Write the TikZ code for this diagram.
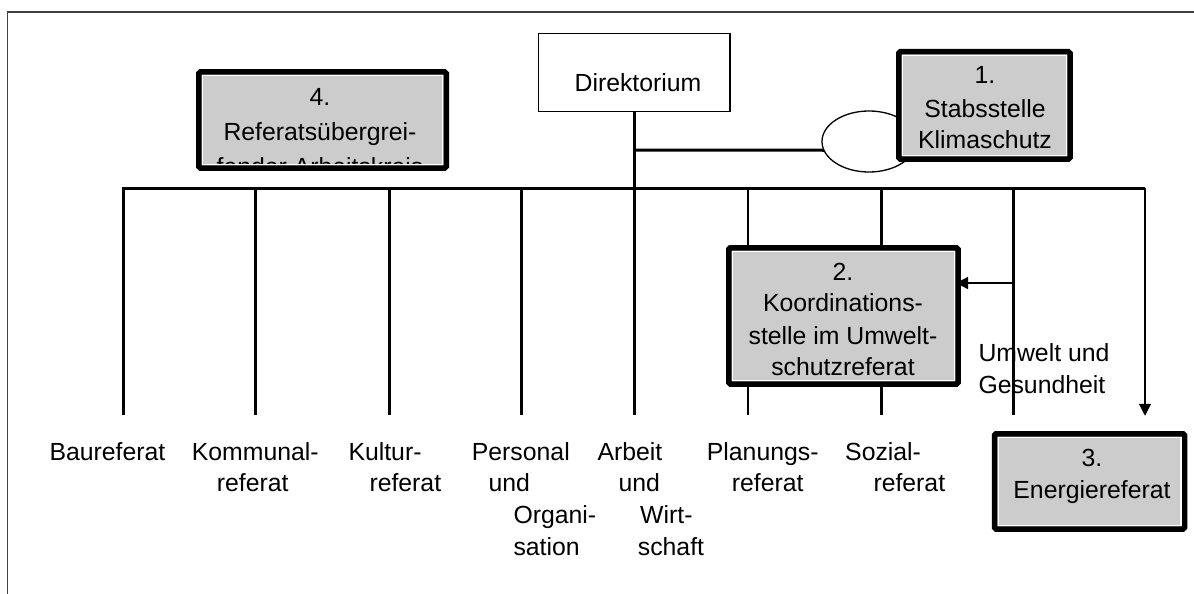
\documentclass[tikz,border=0pt]{standalone}
\usepackage{fontspec}
\setmainfont{Liberation Sans}
\usetikzlibrary{arrows.meta,fit,shapes.geometric}
\newcommand\myinner[1]{\draw[white, line width=1.2pt] ([xshift=3.6pt,yshift=-3.6pt]#1.north west) rectangle ([xshift=-3.6pt,yshift=3.6pt]#1.south east);}
\begin{document}
\begin{tikzpicture}[x=1pt,y=-1pt,
  txt/.style={inner sep=0pt, font=\fontsize{24.8}{30}\selectfont},
  lbl/.style={txt, anchor=base west},
  ctr/.style={txt, anchor=base},
  grbox/.style={draw=black, line width=5.5pt, fill=black!20, inner sep=0pt, outer sep=0pt, rounded corners=1.5pt},
  wbox/.style={draw=black, line width=1.3pt, fill=white, inner sep=0pt, outer sep=0pt},
  heavy/.style={line width=3pt},
  thinl/.style={line width=1.3pt},
  arr/.style={thinl, -{Triangle[length=12pt,width=12pt]}},
]
\useasboundingbox (0,0) rectangle (1194,594);
% frame
\draw[black!75, line width=1.5pt] (7.6,594) -- (7.6,12) -- (1194,12);

% label end points
\coordinate (e1) at (123,415);
\coordinate (e2) at (255,415);
\coordinate (e3) at (389.6,415);
\coordinate (e4) at (521,415);
\coordinate (e6) at (748,415);
\coordinate (e7) at (881,415);
\coordinate (e8) at (1013,415);
\coordinate (busL) at (123,188);
\coordinate (busR) at (1145,188);

% Umwelt und Gesundheit text (line drawn over it)
\node[lbl] (ug1) at (978.3,361.7) {Umwelt und};
\node[lbl] (ug2) at (978.3,393.3) {Gesundheit};

% Direktorium
\node[wbox, fit={(538.3,33.7) (730,111.3)}] (dir) {};
\node[ctr] (dirt) at (638,92) {Direktorium};

% bus and verticals
\draw[heavy] (e1) -- (busL) -- (busR);
\draw[heavy] (dir.south) -- (dir.south |- e1);
\foreach \e in {e2,e3,e4,e7,e8}{\draw[heavy] (\e |- busL) -- (\e);}
\draw[thinl] (e6 |- busL) -- (e6);
\coordinate (j1) at (dir.south |- 0,150);

% ellipse and Stabsstelle
\node[ellipse, draw, thinl, outer sep=0pt, minimum width=94pt, minimum height=61pt, inner sep=0pt] (ell) at (869,141.5) {};
\draw[heavy] (j1) -- (ell.191);

% Box 1
\node[grbox, fit={(898.75,51.75) (1070,159)}] (b1) {};
\myinner{b1}
\node[ctr] (b1a) at (985,83.3) {1.};
\node[ctr] (b1b) at (985,117.3) {Stabsstelle};
\node[ctr] (b1c) at (985,148.3) {Klimaschutz};

% Box 4
\node[grbox, fit={(198.75,72) (446.25,168)}] (b4) {};
\begin{scope}
\clip ([xshift=4.2pt,yshift=-4.2pt]b4.north west) rectangle ([xshift=-4.2pt,yshift=4.2pt]b4.south east);
\node[ctr] (b4a) at (320,105) {4.};
\node[ctr] (b4b) at (320,140) {Referatsübergrei-};
\node[ctr] (b4c) at (320,175) {fender Arbeitskreis};
\end{scope}
\myinner{b4}

% Box 2
\node[grbox, fit={(728.75,247.75) (958,384)}] (b2) {};
\myinner{b2}
\node[ctr] (b2a) at (843,280) {2.};
\node[ctr] (b2b) at (843,311.7) {Koordinations-};
\node[ctr] (b2c) at (843,344) {stelle im Umwelt-};
\node[ctr] (b2d) at (843,375) {schutzreferat};
\coordinate (j3) at (1013,283);
\draw[arr, shorten >=-2pt] (j3) -- (j3 -| b2.east);

% Box 3
\node[grbox, fit={(994.5,433.75) (1184.5,529)}] (b3) {};
\myinner{b3}
\node[ctr] (b3a) at (1092,466.7) {3.};
\node[ctr] (b3b) at (1092,498.3) {Energiereferat};
\draw[arr, shorten >=18pt] (busR) -- (busR |- b3.north);

% bottom labels
\node[lbl] (l1) at (49.3,460) {Baureferat};
\node[lbl] (l2a) at (191.7,460) {Kommunal-};
\node[lbl] (l2b) at (216.7,491.7) {referat};
\node[lbl] (l3a) at (348.3,460) {Kultur-};
\node[lbl] (l3b) at (369.3,491.7) {referat};
\node[lbl] (l4a) at (471.7,460) {Personal};
\node[lbl] (l4b) at (488.3,491.7) {und};
\node[lbl] (l4c) at (513.3,523.3) {Organi-};
\node[lbl] (l4d) at (513.3,555) {sation};
\node[lbl] (l5a) at (597.3,460) {Arbeit};
\node[lbl] (l5b) at (618.3,491.7) {und};
\node[lbl] (l5c) at (640,523.3) {Wirt-};
\node[lbl] (l5d) at (637.7,555) {schaft};
\node[lbl] (l6a) at (706.7,460) {Planungs-};
\node[lbl] (l6b) at (731.7,491.7) {referat};
\node[lbl] (l7a) at (845,460) {Sozial-};
\node[lbl] (l7b) at (873.3,491.7) {referat};
\end{tikzpicture}
\end{document}
